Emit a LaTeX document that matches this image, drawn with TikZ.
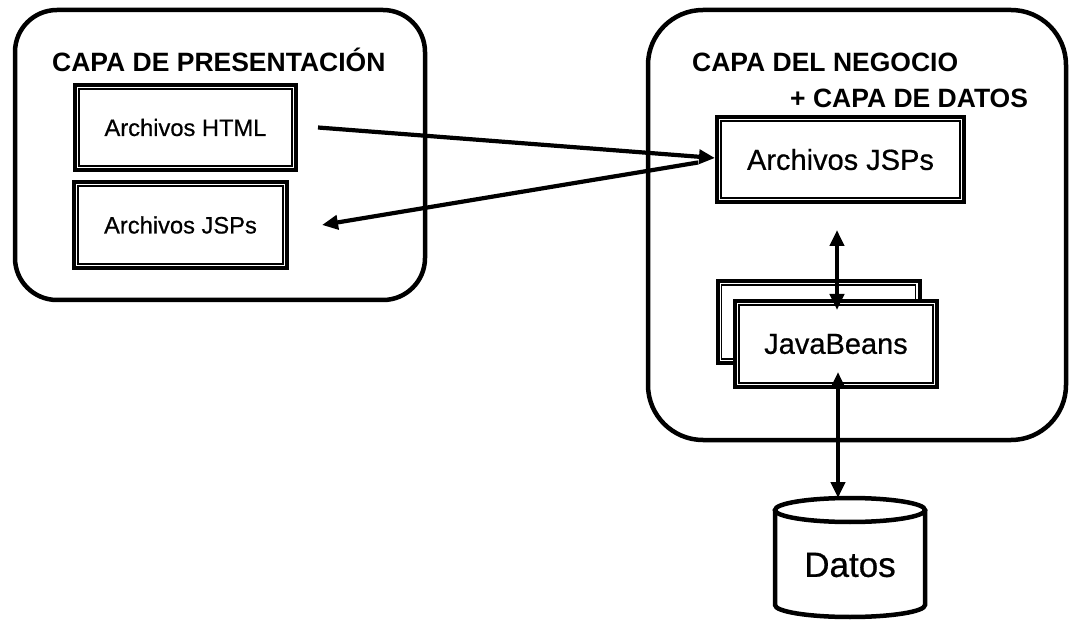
\documentclass[tikz,border=0pt]{standalone}
\usepackage{fontspec}
\setmainfont{Liberation Sans}
\newfontfamily\boxfont{Liberation Sans}[FakeBold=0.6]
\newfontfamily\headfont{Liberation Sans Bold}
\usetikzlibrary{arrows.meta,calc}

\tikzset{
  layer/.style={draw, line width=4.5pt, rounded corners=#1},
  filebox/.style={draw, line width=4pt, fill=white, inner sep=0pt,
    minimum width=#1, align=center},
  inner line/.style={line width=1.3pt},
  tip/.style={Triangle[length=16pt,width=14pt]},
  flow/.style={line width=4.2pt, -{Triangle[length=16pt,width=14pt]}},
  flow both/.style={line width=4.2pt, {Triangle[length=16pt,width=14pt]}-{Triangle[length=16pt,width=14pt]}},
  title/.style={anchor=base west, inner sep=0pt, font=\headfont\fontsize{26.5}{30}\selectfont},
  small/.style={font=\boxfont\fontsize{23.7}{28}\selectfont},
  big/.style={font=\boxfont\fontsize{29}{34}\selectfont},
}
\newcommand\innerframe[1]{%
  \draw[inner line] ($(#1.north west)+(6pt,-6pt)$) rectangle ($(#1.south east)+(-6pt,6pt)$);}

\begin{document}
\begin{tikzpicture}[x=1pt, y=-1pt]
\useasboundingbox (0,0) rectangle (1069,620);

% layers
\draw[layer=42pt] (15,10) rectangle (425,300);
\draw[layer=55pt] (648,10) rectangle (1066,440);

\node[title] (tpres) at (52,72) {CAPA DE PRESENTACIÓN};
\node[title] (tneg) at (692,72) {CAPA DEL NEGOCIO};
\node[title] (tdat) at (790,108) {+ CAPA DE DATOS};

% presentation files
\node[filebox=221pt, minimum height=85pt, small] (html) at (185.5,127.5) {Archivos HTML};
\innerframe{html}
\node[filebox=213pt, minimum height=86pt, small] (jspL) at (180.5,225) {Archivos JSPs};
\innerframe{jspL}

% business files
\node[filebox=247pt, minimum height=85pt, big] (jspR) at (840.5,159.5) {Archivos JSPs};
\innerframe{jspR}
\node[filebox=202pt, minimum height=82pt] (beansback) at (818.5,322) {};
\innerframe{beansback}
\node[filebox=202pt, minimum height=86pt, big] (beans) at (836,344) {JavaBeans};
\innerframe{beans}

% data store
\coordinate (dbtop) at (838,498);
\draw[line width=4.5pt, fill=white]
  (775,510) -- (775,605) arc[start angle=180, end angle=360, x radius=75pt, y radius=12pt]
  -- (925,510);
\draw[line width=4.5pt] (850,510) ellipse[x radius=75pt, y radius=12pt];
\node[font=\boxfont\fontsize{35}{40}\selectfont] (datos) at (850,565) {Datos};

% connectors
\draw[flow] ([xshift=20pt]html.east) -- ([yshift=1.5pt]jspR.west);
\draw[flow] ([xshift=-17pt,yshift=-3pt]jspR.west) -- ([xshift=33pt]jspL.east);
\draw[flow both] ($(jspR.south)+(-3.5pt,-26pt)$) -- ($(beans.north)+(1pt,-11pt)$);
\draw[flow both] ($(beans.south)+(2pt,17pt)$) -- (dbtop);
\end{tikzpicture}
\end{document}
